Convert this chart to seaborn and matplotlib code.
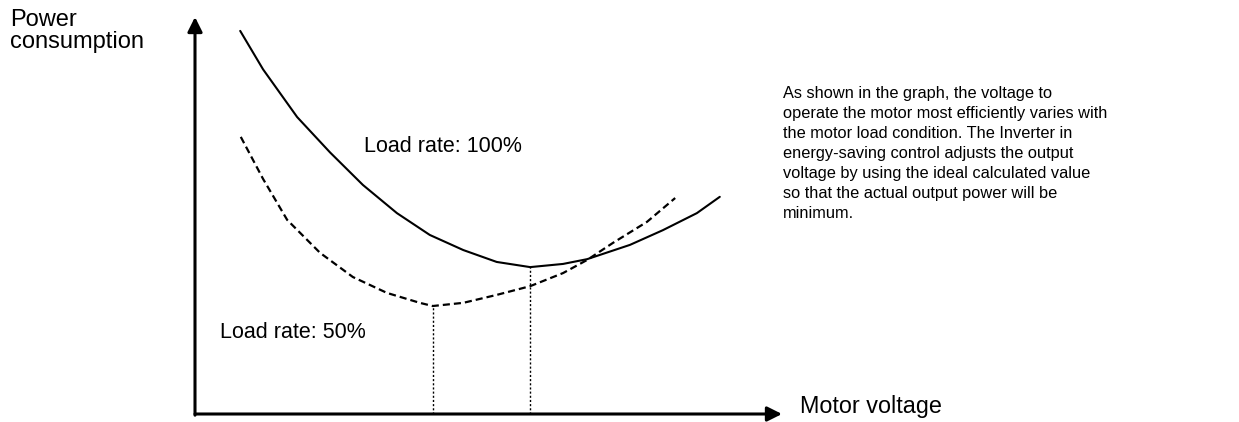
import matplotlib
matplotlib.use("Agg")
import matplotlib.pyplot as plt
import numpy as np
import pandas as pd
import seaborn as sns

# Motor voltage (% of axis length) vs power consumption (% of axis height)
volt_full = [7.7, 11.6, 17.4, 23.0, 28.6, 34.4, 40.0, 45.7, 51.4, 57.1, 62.7, 66.8,
             74.1, 79.7, 85.5, 89.4]
power_full = [96.5, 86.8, 74.8, 65.9, 57.7, 50.6, 45.1, 41.3, 38.3, 37.0, 37.8, 39.0,
              42.6, 46.3, 50.6, 54.7]

volt_half = [7.8, 11.6, 15.7, 21.3, 26.9, 32.7, 38.3, 40.5, 45.7, 51.4, 57.1, 62.7,
             66.8, 71.2, 77.0, 81.8]
power_half = [69.8, 59.2, 48.9, 40.6, 34.5, 30.5, 28.0, 27.2, 28.0, 30.0, 32.2, 35.5,
              38.8, 43.1, 48.4, 54.4]

labels_full = "Load rate: 100%"
labels_half = "Load rate: 50%"
y_title = "Power\nconsumption"
x_title = "Motor voltage"
note = ("As shown in the graph, the voltage to\n"
        "operate the motor most efficiently varies with\n"
        "the motor load condition. The Inverter in\n"
        "energy-saving control adjusts the output\n"
        "voltage by using the ideal calculated value\n"
        "so that the actual output power will be\n"
        "minimum.")

sns.set_theme(style="white")
plt.rcParams["font.family"] = ["Liberation Sans", "DejaVu Sans"]

W, H = 1239, 422
fig = plt.figure(figsize=(W / 100, H / 100), dpi=100)
ox, oy, tipx, tipy = 195, 414, 782, 17
ax = fig.add_axes([ox / W, (H - oy) / H, (tipx - ox) / W, (oy - tipy) / H])
ax.set_xlim(0, 100)
ax.set_ylim(0, 100)
ax.axis("off")

full = pd.DataFrame({"voltage": volt_full, "power": power_full})
half = pd.DataFrame({"voltage": volt_half, "power": power_half})

sns.lineplot(data=full, x="voltage", y="power", ax=ax, color="black", lw=1.5,
             sort=False, estimator=None, solid_joinstyle="round")
sns.lineplot(data=half, x="voltage", y="power", ax=ax, color="black", lw=1.6,
             sort=False, estimator=None, linestyle=(0, (3.2, 1.8)))

# dotted drop lines from each curve's minimum to the voltage axis
for df in (full, half):
    i = df["power"].idxmin()
    ax.vlines(df.loc[i, "voltage"], 0, df.loc[i, "power"], colors="black",
              lw=1.0, linestyles=(0, (1.5, 1.5)))

# axes drawn as arrows
arrow = dict(arrowstyle="-|>", lw=2.2, color="black", mutation_scale=22,
             shrinkA=0, shrinkB=0)
ax.annotate("", xy=(0, 1), xytext=(0, -0.003), xycoords="axes fraction",
            textcoords="axes fraction", arrowprops=arrow, annotation_clip=False)
ax.annotate("", xy=(1, 0), xytext=(0, 0), xycoords="axes fraction",
            textcoords="axes fraction", arrowprops=arrow, annotation_clip=False)


def put(px, py, s, **kw):
    fig.text(px / W, 1 - py / H, s, color="black", **kw)


put(10, 9, y_title, fontsize=17, va="top", ha="left", linespacing=1.0)
put(800, 407, x_title, fontsize=16.8, va="center", ha="left")
put(364, 147, labels_full, fontsize=15.5, va="center", ha="left")
put(220, 332, labels_half, fontsize=15.5, va="center", ha="left")
put(783, 86, note, fontsize=11.8, va="top", ha="left", linespacing=1.42)

fig.savefig("out.png", dpi=100)
